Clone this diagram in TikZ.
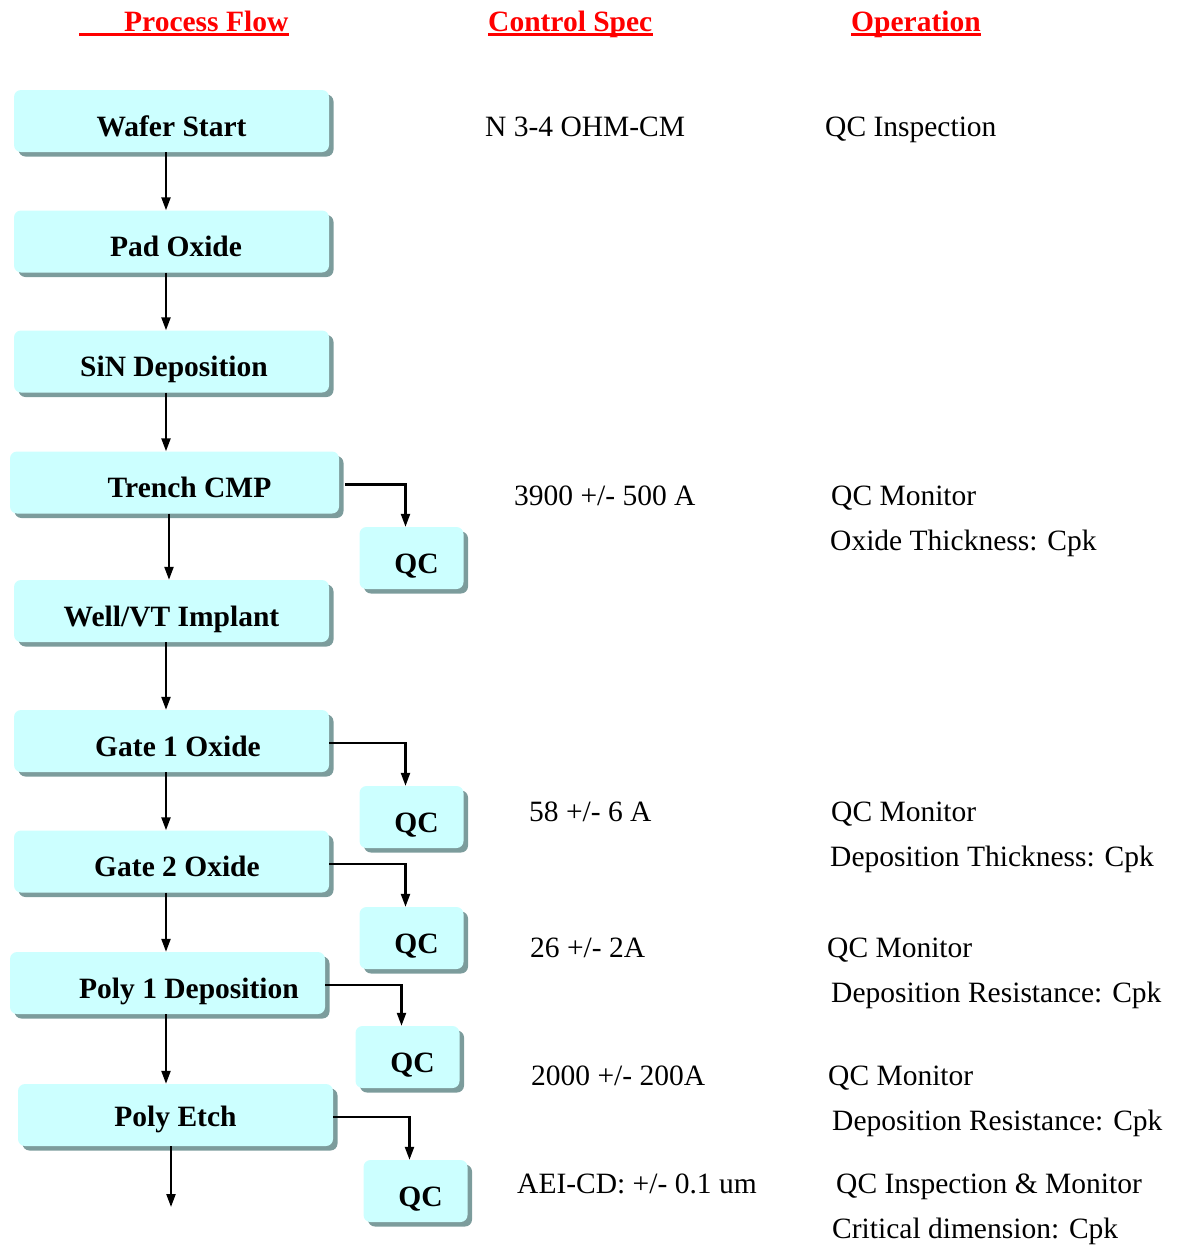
\documentclass[tikz,border=0pt]{standalone}
\usepackage{fontspec}
\setmainfont{Liberation Serif}
\usetikzlibrary{arrows.meta,shadows}
\definecolor{boxfill}{HTML}{CCFFFF}
\definecolor{boxshade}{HTML}{7C9C9C}
\definecolor{hdrred}{HTML}{FF0000}
\begin{document}
\begin{tikzpicture}[x=1pt,y=-1pt,
  every node/.style={inner sep=0pt,font=\fontsize{29.5}{32}\selectfont},
  pbox/.style={fill=boxfill,rounded corners=7pt,minimum height=62pt,
    text height=31.5pt,text depth=1pt,font=\fontsize{29.5}{32}\selectfont\bfseries,
    drop shadow={shadow xshift=4.5pt,shadow yshift=-4.5pt,fill=boxshade,opacity=1}},
  nudge/.style={execute at begin node={\hspace*{#1}}},
  flowbox/.style={pbox,minimum width=315pt},
  qcbox/.style={pbox,minimum width=104pt,nudge=10pt},
  hdr/.style={anchor=base west,text=hdrred,font=\fontsize{29.5}{32}\selectfont\bfseries},
  hdrline/.style={draw=hdrred,line width=3pt},
  txt/.style={anchor=base west},
  arr/.style={line width=2.2pt,-{Triangle[length=13pt,width=9pt]}}]
\useasboundingbox (0,0) rectangle (1177,1245);

% column headings
\node[hdr] (h1) at (79,31) {\hspace*{45pt}Process Flow};
\node[hdr] (h2) at (488,31) {Control Spec};
\node[hdr] (h3) at (851,31) {Operation};
\foreach \h in {h1,h2,h3}
  \draw[hdrline] ([yshift=-3.5pt]\h.base west) -- ([yshift=-3.5pt]\h.base east);

% process steps
\node[flowbox] (wafer)  at (171.5,121) {Wafer Start};
\node[flowbox,nudge=9pt] (pad)    at (171.5,241.5) {Pad Oxide};
\node[flowbox,nudge=5pt] (sin)    at (171.5,361.5) {SiN Deposition};
\node[flowbox,minimum width=329pt,nudge=30pt] (trench) at (174.5,482.5) {Trench CMP};
\node[flowbox] (well)   at (171.5,611) {Well/VT Implant};
\node[flowbox,nudge=13pt] (gate1)  at (171.5,741) {Gate 1 Oxide};
\node[flowbox,nudge=11pt] (gate2)  at (171.5,861.5) {Gate 2 Oxide};
\node[flowbox,nudge=43pt] (poly1)  at (167.5,983) {Poly 1 Deposition};
\node[flowbox,text height=24pt] (etch) at (175.5,1115) {Poly Etch};
\coordinate (next) at (171,1207);

% QC checkpoints
\node[qcbox] (qc1) at (411.5,558)  {QC};
\node[qcbox] (qc2) at (411.5,817)  {QC};
\node[qcbox] (qc3) at (411.5,938)  {QC};
\node[qcbox] (qc4) at (407.5,1057) {QC};
\node[qcbox] (qc5) at (415.5,1191) {QC};

% main flow
\draw[arr] ([xshift=-5.5pt]wafer.south) -- ([xshift=-5.5pt]pad.north);
\draw[arr] ([xshift=-5.5pt]pad.south) -- ([xshift=-5.5pt]sin.north);
\draw[arr] ([xshift=-5.5pt]sin.south) -- ([xshift=-5.5pt]well.north |- trench.north);
\draw[arr] ([xshift=-5.5pt]trench.south) -- ([xshift=-2.5pt]well.north);
\draw[arr] ([xshift=-5.5pt]well.south) -- ([xshift=-5.5pt]gate1.north);
\draw[arr] ([xshift=-5.5pt]gate1.south) -- ([xshift=-5.5pt]gate2.north);
\draw[arr] ([xshift=-5.5pt]gate2.south) -- ([xshift=-1.5pt]poly1.north);
\draw[arr] ([xshift=-1.5pt]poly1.south) -- ([xshift=-9.5pt]etch.north);
\draw[arr] ([xshift=-4.5pt]etch.south) -- (next);

% branches to QC
\draw[arr] ([xshift=6pt,yshift=-2pt]trench.east) -| ([xshift=-6pt]qc1.north);
\draw[arr] ([yshift=-2pt]gate1.east) -| ([xshift=-6pt]qc2.north);
\draw[arr] ([yshift=-2.5pt]gate2.east) -| ([xshift=-6pt]qc3.north);
\draw[arr] ([yshift=-2pt]poly1.east) -| ([xshift=-6pt]qc4.north);
\draw[arr] ([yshift=-2pt]etch.east) -| ([xshift=-6pt]qc5.north);

% control specifications
\node[txt] (s1) at (485,136)  {N 3-4 OHM-CM};
\node[txt] (s2) at (514,505)  {3900 +/- 500 A};
\node[txt] (s3) at (529,821)  {58 +/- 6 A};
\node[txt] (s4) at (530,957)  {26 +/- 2A};
\node[txt] (s5) at (531,1085) {2000 +/- 200A};
\node[txt] (s6) at (517,1193) {AEI-CD: +/- 0.1 um};

% operations
\node[txt] (o1)  at (825,136)  {QC Inspection};
\node[txt] (o2)  at (831,505)  {QC Monitor};
\node[txt] (o2b) at (830,550)  {Oxide Thickness: Cpk};
\node[txt] (o3)  at (831,821)  {QC Monitor};
\node[txt] (o3b) at (830,866)  {Deposition Thickness: Cpk};
\node[txt] (o4)  at (827,957)  {QC Monitor};
\node[txt] (o4b) at (831,1002) {Deposition Resistance: Cpk};
\node[txt] (o5)  at (828,1085) {QC Monitor};
\node[txt] (o5b) at (832,1130) {Deposition Resistance: Cpk};
\node[txt] (o6)  at (836,1193) {QC Inspection \& Monitor};
\node[txt] (o6b) at (832,1238) {Critical dimension: Cpk};
\end{tikzpicture}
\end{document}
